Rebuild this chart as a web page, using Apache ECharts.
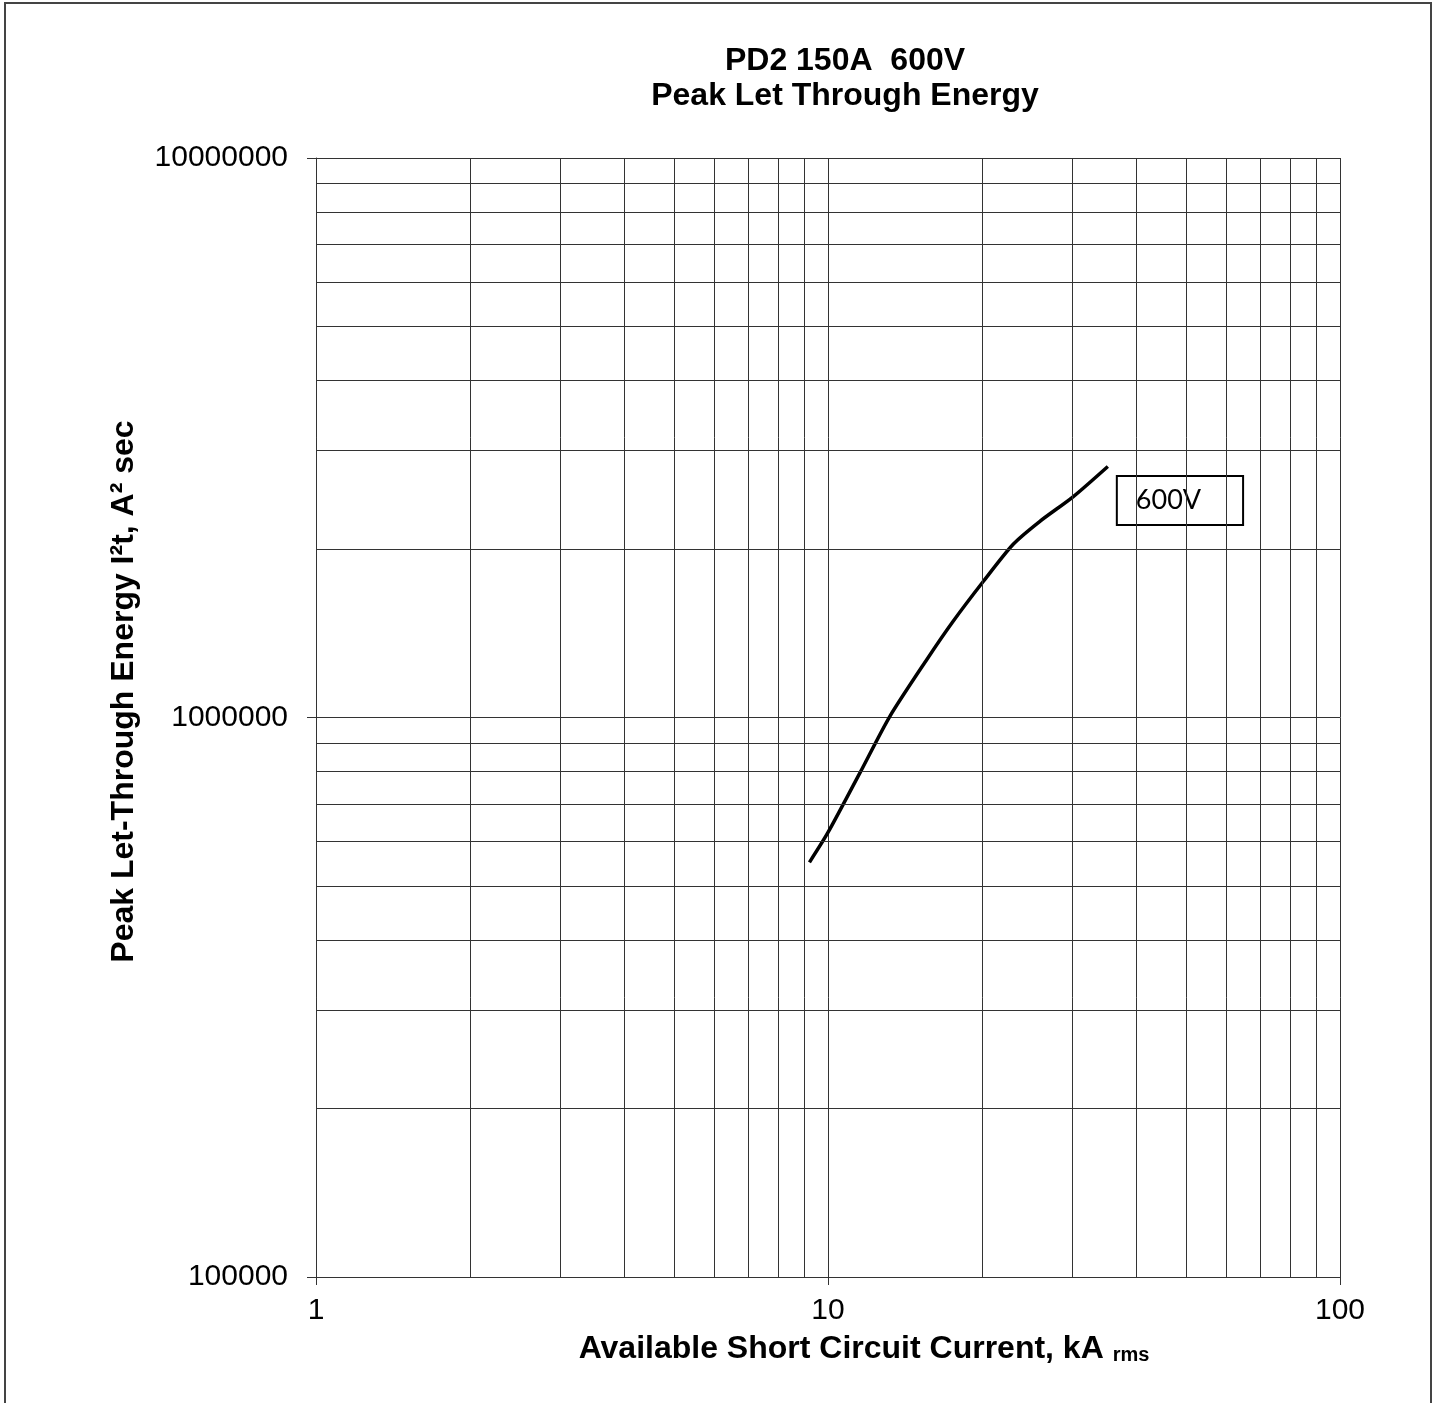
<!DOCTYPE html>
<html>
<head>
<meta charset="UTF-8">
<title>PD2 150A 600V Peak Let Through Energy</title>
<script src="https://cdn.jsdelivr.net/npm/echarts@6/dist/echarts.min.js"></script>
<style>
  html, body { margin: 0; padding: 0; background: #fff; }
  #chart { width: 1439px; height: 1403px; }
</style>
</head>
<body>
<div id="chart"></div>
<script>
// curve: available current (kA rms) vs I2t (A^2 s)
var currentKA = [9.2, 10.0, 11.55, 13.2, 15.6, 17.5, 20.1, 23.0, 25.9, 30.1, 35.2];
var letThrough = [551000, 623000, 797000, 1004000, 1270000, 1480000, 1750000, 2040000, 2240000, 2480000, 2810000];

// minor grid lines of the log paper
var xMinor = [2, 3, 4, 5, 6, 7, 8, 9, 20, 30, 40, 50, 60, 70, 80, 90];
var yMinor = [200000, 300000, 400000, 500000, 600000, 700000, 800000, 900000,
              2000000, 3000000, 4000000, 5000000, 6000000, 7000000, 8000000, 9000000];

var seriesName = '600V';
var gridColor = '#333';
var font = 'Liberation Sans, Arial, sans-serif';

var myChart = echarts.init(document.getElementById('chart'));

var minorLines = [];
xMinor.forEach(function (v) { minorLines.push({ xAxis: v }); });
yMinor.forEach(function (v) { minorLines.push({ yAxis: v }); });

var option = {
  animation: false,
  backgroundColor: '#fff',
  title: {
    text: 'PD2 150A  600V\nPeak Let Through Energy',
    left: 840,
    top: 39,
    textAlign: 'center',
    textStyle: { fontFamily: font, fontSize: 32, fontWeight: 'bold', color: '#000', lineHeight: 35 }
  },
  graphic: [{
    type: 'rect',
    shape: { x: 5, y: 3, width: 1426, height: 1430 },
    style: { fill: 'none', stroke: '#444', lineWidth: 2 },
    silent: true
  }],
  grid: { left: 316, top: 158, right: 99, bottom: 126 },
  xAxis: {
    type: 'log',
    logBase: 10,
    min: 1,
    max: 100,
    name: 'Available Short Circuit Current, kA {sub|rms}',
    nameLocation: 'middle',
    nameGap: 56,
    nameTextStyle: {
      fontFamily: font, fontSize: 32, fontWeight: 'bold', color: '#000',
      padding: [0, 0, 0, 72],
      rich: { sub: { fontFamily: font, fontSize: 20, fontWeight: 'bold', color: '#000', verticalAlign: 'bottom', padding: [12, 0, 0, 0] } }
    },
    axisLine: { show: true, lineStyle: { color: gridColor, width: 1 } },
    axisTick: { show: true, inside: false, length: 8, lineStyle: { color: gridColor } },
    axisLabel: {
      fontFamily: font, fontSize: 30, color: '#000', margin: 19,
      formatter: function (v) { return String(Math.round(v)); }
    },
    splitLine: { show: true, lineStyle: { color: gridColor, width: 1 } },
    minorTick: { show: false },
    minorSplitLine: { show: false }
  },
  yAxis: {
    type: 'log',
    logBase: 10,
    min: 100000,
    max: 10000000,
    name: 'Peak Let-Through Energy I²t, A² sec',
    nameLocation: 'middle',
    nameGap: 176,
    nameTextStyle: {
      fontFamily: font, fontSize: 32, fontWeight: 'bold', color: '#000',
      padding: [0, 0, 0, 52]
    },
    axisLine: { show: true, lineStyle: { color: gridColor, width: 1 } },
    axisTick: { show: true, inside: false, length: 9, lineStyle: { color: gridColor } },
    axisLabel: {
      fontFamily: font, fontSize: 30, color: '#000', margin: 28,
      formatter: function (v) { return String(Math.round(v)); }
    },
    splitLine: { show: true, lineStyle: { color: gridColor, width: 1 } },
    minorTick: { show: false },
    minorSplitLine: { show: false }
  },
  series: [
    {
      name: 'grid',
      type: 'line',
      data: [],
      z: 1,
      silent: true,
      markLine: {
        silent: true,
        symbol: 'none',
        label: { show: false },
        lineStyle: { color: gridColor, width: 1, type: 'solid' },
        data: minorLines
      }
    },
    {
      name: seriesName,
      type: 'line',
      z: 3,
      smooth: 0.25,
      showSymbol: false,
      symbol: 'none',
      lineStyle: { color: '#000', width: 3.5 },
      data: currentKA.map(function (x, i) { return [x, letThrough[i]]; }),
      endLabel: {
        show: true,
        formatter: seriesName,
        distance: 8,
        offset: [2, 34],
        fontFamily: 'Lato, Open Sans, sans-serif',
        fontSize: 27,
        color: '#000',
        backgroundColor: '#fff',
        borderColor: '#000',
        borderWidth: 2,
        padding: [10, 41, 10, 18]
      }
    }
  ]
};

myChart.setOption(option);
</script>
</body>
</html>
